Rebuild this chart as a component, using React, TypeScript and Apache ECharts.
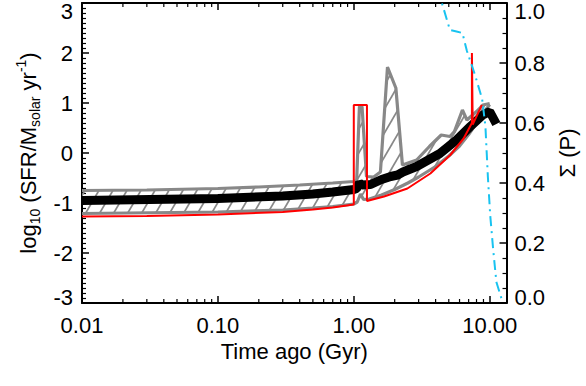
import React, { useEffect, useRef } from 'react';
import * as echarts from 'echarts';

// Time ago (Gyr), log10 SFR
const upperBand: [number, number][] = [
  [0.01, -0.75], [0.03, -0.74], [0.1, -0.71], [0.2, -0.68], [0.4, -0.64], [0.7, -0.6],
  [1.0, -0.57], [1.05, -0.55], [1.1, 0.93], [1.15, 0.93], [1.24, -0.47], [1.4, -0.48],
  [1.57, -0.38], [1.77, 1.72], [2.04, 1.3], [2.28, -0.24], [2.9, -0.14], [3.6, 0.13],
  [4.4, 0.36], [5.1, 0.33], [5.5, 0.43], [6.3, 0.86], [6.8, 0.66], [8.0, 0.83],
  [8.9, 0.96], [10.0, 0.99],
];
const lowerBand: [number, number][] = [
  [0.01, -1.21], [0.1, -1.18], [0.3, -1.14], [0.5, -1.1], [0.7, -1.07], [1.0, -1.02],
  [1.06, -0.98], [1.12, -0.82], [1.18, -0.93], [1.3, -0.92], [1.6, -0.84], [2.0, -0.73],
  [2.5, -0.6], [3.0, -0.48], [4.0, -0.27], [5.0, -0.06], [6.0, 0.14], [7.0, 0.37],
  [8.0, 0.6], [9.0, 0.8], [10.0, 0.97],
];
const bestFit: [number, number][] = [
  [0.01, -0.95], [0.1, -0.91], [0.3, -0.86], [0.5, -0.82], [0.7, -0.78], [1.0, -0.73],
  [1.05, -0.71], [1.1, -0.6], [1.15, -0.64], [1.33, -0.63], [1.6, -0.53], [1.87, -0.47],
  [2.1, -0.44], [2.3, -0.38], [2.9, -0.27], [4.3, -0.01], [5.7, 0.26], [7.2, 0.53],
  [8.9, 0.76], [10.0, 0.83], [11.2, 0.58],
];
const inputModel: [number, number][] = [
  [0.01, -1.27], [0.03, -1.26], [0.1, -1.23], [0.3, -1.18], [0.5, -1.13], [0.7, -1.09],
  [1.0, -1.03], [1.0, 0.96], [1.25, 0.96], [1.25, -0.96], [1.67, -0.87], [2.48, -0.71],
  [3.66, -0.41], [5.13, -0.04], [6.43, 0.29], [7.4, 0.6], [7.4, 2.0], [7.5, 0.57],
  [8.75, 0.96],
];
// cumulative probability (right axis)
const cumProb: [number, number][] = [
  [4.0, 1.12], [4.45, 1.0], [5.1, 0.91], [5.7, 0.905], [6.3, 0.9], [6.8, 0.84],
  [7.8, 0.76], [8.8, 0.68], [9.3, 0.59], [9.7, 0.42], [10.1, 0.29], [10.6, 0.18],
  [11.2, 0.07], [12.5, 0.0],
];
const xMinorTicks: number[] = [
  0.02, 0.03, 0.04, 0.05, 0.06, 0.07, 0.08, 0.09,
  0.2, 0.3, 0.4, 0.5, 0.6, 0.7, 0.8, 0.9,
  2, 3, 4, 5, 6, 7, 8, 9,
];

const FONT = 'Liberation Sans';
const GRAY = '#888888';

function makeHatch(): HTMLCanvasElement {
  const w = 14, h = 24;
  const c = document.createElement('canvas');
  c.width = w; c.height = h;
  const ctx = c.getContext('2d')!;
  ctx.strokeStyle = GRAY;
  ctx.lineWidth = 1.7;
  for (const dx of [-w, 0, w]) {
    ctx.beginPath();
    ctx.moveTo(dx - w * 0.2, h + h * 0.2);
    ctx.lineTo(dx + w * 1.2, -h * 0.2);
    ctx.stroke();
  }
  return c;
}

export default function App() {
  const ref = useRef<HTMLDivElement>(null);
  useEffect(() => {
    if (!ref.current) return;
    const chart = echarts.init(ref.current, undefined, { renderer: 'svg' });
    const hatch = makeHatch();
    const xLabel = (v: number) => {
      const l = Math.log10(v);
      if (Math.abs(l - Math.round(l)) > 1e-6) return '';
      return v.toFixed(2);
    };
    const lbl = { fontFamily: FONT, fontSize: 22, color: '#000' };
    const yRich = {
      t: { ...lbl, padding: [16, 0, 0, 0] },
      b: { ...lbl, padding: [0, 0, 12, 0] },
      m: { ...lbl },
    };
    chart.setOption({
      animation: false,
      backgroundColor: '#fff',
      grid: { left: 82, right: 76, top: 3, bottom: 83, containLabel: false },
      xAxis: [
        {
          type: 'log', min: 0.01, max: 13.3, position: 'bottom',
          name: 'Time ago (Gyr)', nameLocation: 'middle', nameGap: 37,
          nameTextStyle: { ...lbl },
          axisLine: { onZero: false, lineStyle: { color: '#000', width: 2 } },
          axisTick: { inside: true, length: 7, lineStyle: { color: '#000', width: 1.5 } },
          axisLabel: { ...lbl, margin: 11, formatter: xLabel, showMaxLabel: false },
          splitLine: { show: false },
        },
        {
          type: 'log', min: 0.01, max: 13.3, position: 'top',
          axisLine: { onZero: false, lineStyle: { color: '#000', width: 2 } },
          axisTick: { inside: true, length: 7, lineStyle: { color: '#000', width: 1.5 } },
          axisLabel: { show: false },
          splitLine: { show: false },
        },
      ],
      yAxis: [
        {
          type: 'value', min: -3, max: 3, interval: 1, position: 'left',
          name: '{n|log}{s|10}{n| (SFR/M}{s|solar}{n| yr}{p|-1}{n|)}',
          nameLocation: 'middle', nameGap: 40, nameRotate: 90,
          nameTextStyle: {
            ...lbl,
            rich: {
              n: { ...lbl, lineHeight: 28 },
              s: { fontFamily: FONT, fontSize: 14, color: '#000', lineHeight: 14, verticalAlign: 'bottom' },
              p: { fontFamily: FONT, fontSize: 14, color: '#000', lineHeight: 14, verticalAlign: 'top' },
            },
          },
          axisLine: { onZero: false, lineStyle: { color: '#000', width: 2 } },
          axisTick: { inside: true, length: 7, lineStyle: { color: '#000', width: 1.5 } },
          minorTick: { show: true, splitNumber: 10, length: 4, lineStyle: { color: '#000', width: 1.2 } },
          axisLabel: {
            ...lbl, margin: 9,
            formatter: (v: number) => (v === 3 ? `{t|${v}}` : v === -3 ? `{b|${v}}` : `{m|${v}}`),
            rich: yRich,
          },
          splitLine: { show: false },
        },
        {
          type: 'value', min: 0, max: 1, interval: 0.2, position: 'right',
          name: 'Σ (P)', nameLocation: 'middle', nameGap: 47, nameRotate: 90,
          nameTextStyle: { ...lbl },
          axisLine: { onZero: false, lineStyle: { color: '#000', width: 2 } },
          axisTick: { inside: true, length: 7, lineStyle: { color: '#000', width: 1.5 } },
          minorTick: { show: true, splitNumber: 4, length: 4, lineStyle: { color: '#000', width: 1.2 } },
          axisLabel: {
            ...lbl, margin: 8,
            formatter: (v: number) => {
              const s = v.toFixed(1);
              return v >= 0.999 ? `{t|${s}}` : v <= 0.001 ? `{b|${s}}` : `{m|${s}}`;
            },
            rich: yRich,
          },
          splitLine: { show: false },
        },
      ],
      series: [
        {
          type: 'custom', name: 'band', xAxisIndex: 0, yAxisIndex: 0, silent: true, z: 1,
          data: [[1, 0]],
          renderItem: (_p: any, api: any) => {
            const pts = upperBand.map((d) => api.coord(d))
              .concat(lowerBand.slice().reverse().map((d) => api.coord(d)));
            return {
              type: 'polygon',
              shape: { points: pts },
              style: { fill: { image: hatch, repeat: 'repeat' }, stroke: null },
            };
          },
        },
        {
          type: 'line', name: 'upper', data: upperBand, showSymbol: false, symbol: 'none', z: 2,
          lineStyle: { color: GRAY, width: 3.2 },
        },
        {
          type: 'line', name: 'lower', data: lowerBand, showSymbol: false, symbol: 'none', z: 2,
          lineStyle: { color: GRAY, width: 3.2 },
        },
        {
          type: 'line', name: 'best', data: bestFit, showSymbol: false, symbol: 'none', z: 3,
          lineStyle: { color: '#000', width: 9 },
        },
        {
          type: 'line', name: 'input', data: inputModel, showSymbol: false, symbol: 'none', z: 4,
          lineStyle: { color: '#ff0000', width: 2 },
        },
        {
          type: 'line', name: 'cum', data: cumProb, yAxisIndex: 1, showSymbol: false, symbol: 'none', z: 5,
          lineStyle: { color: '#19c3f0', width: 2, type: [10, 5, 2, 5] },
        },
        {
          type: 'custom', name: 'minorTicks', xAxisIndex: 0, yAxisIndex: 0, silent: true, z: 6,
          data: xMinorTicks.map((v) => [v, -3]),
          renderItem: (_p: any, api: any) => {
            const x = api.value(0);
            const b = api.coord([x, -3]);
            const t = api.coord([x, 3]);
            return {
              type: 'group',
              children: [
                { type: 'line', shape: { x1: b[0], y1: b[1], x2: b[0], y2: b[1] - 4 }, style: { stroke: '#000', lineWidth: 1.2 } },
                { type: 'line', shape: { x1: t[0], y1: t[1], x2: t[0], y2: t[1] + 4 }, style: { stroke: '#000', lineWidth: 1.2 } },
              ],
            };
          },
        },
      ],
    });
    return () => chart.dispose();
  }, []);
  return <div ref={ref} style={{ width: 586, height: 386, position: 'absolute', left: 0, top: 0 }} />;
}
